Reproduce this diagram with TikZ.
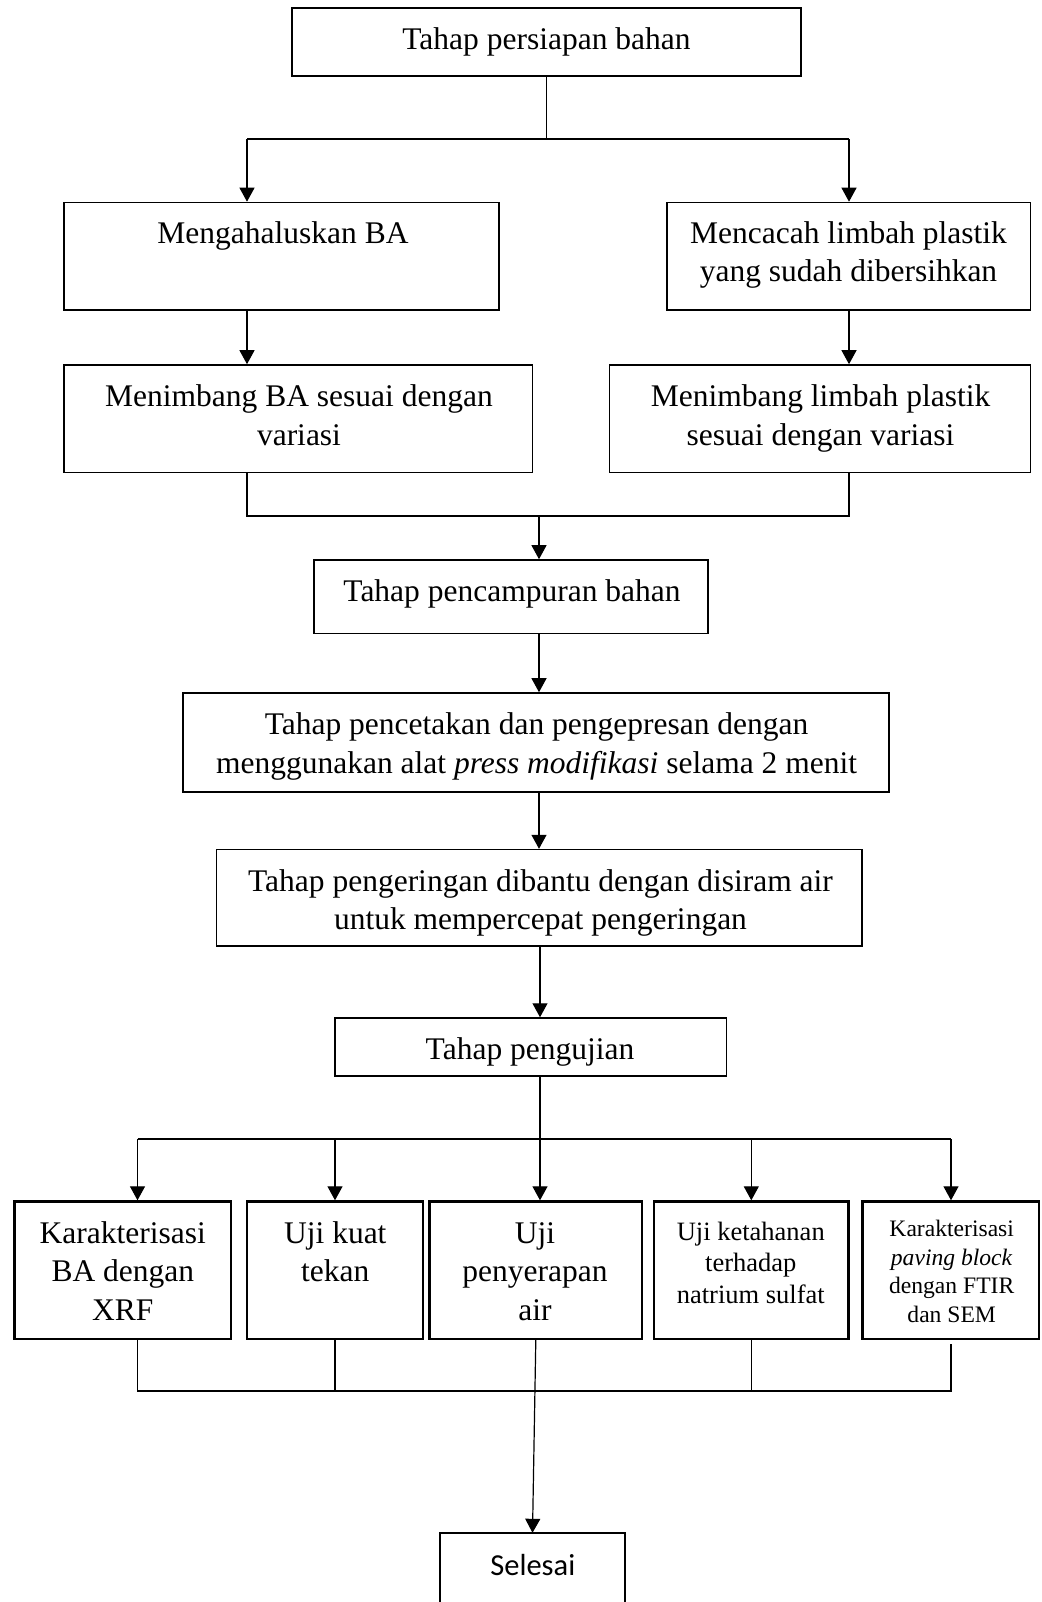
\documentclass[tikz,border=0pt]{standalone}
\usepackage{fontspec}
\setmainfont{Liberation Serif}
\newfontfamily\calibfont{Carlito}
\usetikzlibrary{arrows.meta}
\newcommand{\mlines}[1]{\begin{tabular}[t]{@{}c@{}}#1\end{tabular}}
\tikzset{
  box/.style={draw, line width=1.6pt, inner sep=0pt},
  bbox/.style={draw, line width=2.4pt, inner sep=0pt},
  txt/.style={anchor=base, inner sep=0pt, font=\fontsize{31.5}{38.5}\selectfont},
  txtb/.style={anchor=base, inner sep=0pt, font=\fontsize{26.5}{31.5}\selectfont},
  txtc/.style={anchor=base, inner sep=0pt, font=\fontsize{23.6}{28.5}\selectfont},
  conn/.style={line width=1.2pt},
  arr/.style={conn, -{Triangle[length=14pt,width=15pt]}}
}
\begin{document}
\begin{tikzpicture}[x=1pt,y=-1pt]
\useasboundingbox (0,0) rectangle (1041,1602);
% boxes
\node[box, minimum width=509pt, minimum height=68pt] (t) at (546.5,42) {};
\node[box, minimum width=435pt, minimum height=107.5pt] (m1) at (281.5,256.25) {};
\node[box, minimum width=363.5pt, minimum height=107.5pt] (c1) at (848.75,256.25) {};
\node[box, minimum width=468.5pt, minimum height=107.5pt] (m2) at (298.25,418.75) {};
\node[box, minimum width=421pt, minimum height=107.5pt] (c2) at (820,418.75) {};
\node[box, minimum width=394pt, minimum height=73.6pt] (p1) at (511,596.8) {};
\node[box, minimum width=706pt, minimum height=99pt] (p2) at (536,742.5) {};
\node[box, minimum width=645.5pt, minimum height=96.4pt] (p3) at (539.25,897.8) {};
\node[box, minimum width=391.8pt, minimum height=57.7pt] (p4) at (530.6,1046.9) {};
\node[bbox, minimum width=216.4pt, minimum height=137.5pt] (b1) at (122.8,1270.25) {};
\node[bbox, minimum width=176pt, minimum height=137.5pt] (b2) at (335,1270.25) {};
\node[bbox, minimum width=212.4pt, minimum height=137.5pt] (b3) at (535.8,1270.25) {};
\node[bbox, minimum width=194.6pt, minimum height=137.5pt] (b4) at (751.3,1270.25) {};
\node[bbox, minimum width=176.5pt, minimum height=137.5pt] (b5) at (950.75,1270.25) {};
\node[inner sep=0pt, minimum width=185pt, minimum height=69pt] (s) at (532.5,1567.5) {};
\draw[line width=2.4pt] (s.south west) -- (s.north west) -- (s.north east) -- (s.south east);
% texts
\node[txt] (tT) at (546.5,49.5) {Tahap persiapan bahan};
\node[txt] (m1T) at (283,243.5) {Mengahaluskan BA};
\node[txt] (c1T) at (848.5,243.5) {\mlines{Mencacah limbah plastik\\yang sudah dibersihkan}};
\node[txt] (m2T) at (299,406.5) {\mlines{Menimbang BA sesuai dengan\\variasi}};
\node[txt] (c2T) at (820.5,406.5) {\mlines{Menimbang limbah plastik\\sesuai dengan variasi}};
\node[txt] (p1T) at (512,601.5) {Tahap pencampuran bahan};
\node[txt] (p2T) at (536.6,734.6) {\mlines{Tahap pencetakan dan pengepresan dengan\\menggunakan alat \textit{press modifikasi} selama 2 menit}};
\node[txt] (p3T) at (540.5,891) {\mlines{Tahap pengeringan dibantu dengan disiram air\\untuk mempercepat pengeringan}};
\node[txt] (p4T) at (530,1059) {Tahap pengujian};
\node[txt] (b1T) at (122.8,1243.3) {\mlines{Karakterisasi\\BA dengan\\XRF}};
\node[txt] (b2T) at (335.3,1243.3) {\mlines{Uji kuat\\tekan}};
\node[txt] (b3T) at (535,1243) {\mlines{Uji\\penyerapan\\air}};
\node[txtb] (b4T) at (750.8,1240) {\mlines{Uji ketahanan\\terhadap\\natrium sulfat}};
\node[txtc] (b5T) at (951.7,1236.7) {\mlines{Karakterisasi\\\textit{paving block}\\dengan FTIR\\dan SEM}};
\node[anchor=base, inner sep=0pt, font=\calibfont\fontsize{30.5}{36}\selectfont] (sT) at (532.8,1575) {Selesai};
% connectors
\coordinate (jL) at (247,139);
\coordinate (jR) at (849,139);
\draw[conn] (t.south) -- (t.south |- jL);
\draw[conn] (jL) -- (jR);
\draw[arr] (jL) -- (jL |- m1.north);
\draw[arr] (jR) -- (jR |- c1.north);
\draw[arr] (jL |- m1.south) -- (jL |- m2.north);
\draw[arr] (jR |- c1.south) -- (jR |- c2.north);
\coordinate (kL) at (247,516);
\coordinate (kR) at (849,516);
\coordinate (k) at (539,516);
\draw[conn] (kL |- m2.south) -- (kL) -- (kR) -- (kR |- c2.south);
\draw[arr] (k) -- (k |- p1.north);
\draw[arr] (k |- p1.south) -- (k |- p2.north);
\draw[arr] (k |- p2.south) -- (k |- p3.north);
\coordinate (q) at (540,1139);
\draw[arr] (q |- p3.south) -- (q |- p4.north);
\draw[line width=1.8pt] (q |- p4.south) -- (q);
\coordinate (hL) at (137.5,1139);
\coordinate (hR) at (951,1139);
\draw[conn] (hL) -- (hR);
\draw[arr] (hL) -- (hL |- b1.north);
\draw[arr] (b2.north |- hL) -- (b2.north);
\draw[arr] (q) -- (q |- b3.north);
\draw[arr] (b4.north |- hL) -- (b4.north);
\draw[arr] (hR) -- (hR |- b5.north);
\coordinate (gL) at (137.5,1391);
\coordinate (gR) at (951,1391);
\coordinate (g5) at (951,1344);
\draw[conn] (gL |- b1.south) -- (gL) -- (gR) -- (g5);
\draw[conn] (b2.south) -- (b2.south |- gL);
\draw[conn] (b4.south) -- (b4.south |- gL);
\draw[arr] (b3.south) -- (s.north);
\end{tikzpicture}
\end{document}
